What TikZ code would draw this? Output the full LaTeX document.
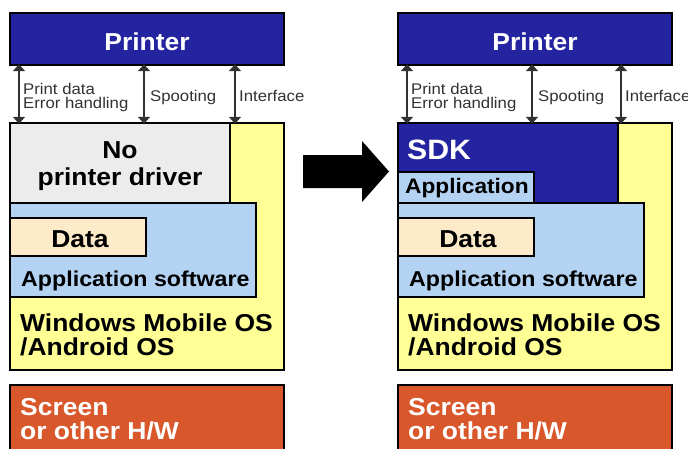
\documentclass[tikz,border=0pt]{standalone}
\usepackage{fontspec}
\setmainfont{Liberation Sans}[FakeStretch=1.08]
\usetikzlibrary{arrows.meta}
\definecolor{prnblue}{RGB}{36,36,160}
\definecolor{osyellow}{RGB}{255,255,150}
\definecolor{drvgray}{RGB}{236,236,236}
\definecolor{appblue}{RGB}{180,210,242}
\definecolor{datapeach}{RGB}{252,234,200}
\definecolor{hworange}{RGB}{216,88,44}
\definecolor{arrgray}{RGB}{50,50,50}
\tikzset{
  box/.style={draw=black, line width=1.6pt, anchor=north west, inner sep=0pt, outer sep=0pt},
  big/.style={anchor=base west, inner sep=0pt, font=\bfseries\fontsize{24.5}{26}\selectfont},
  bigc/.style={anchor=base, inner sep=0pt, font=\bfseries\fontsize{24.5}{26}\selectfont},
  small/.style={anchor=base west, inner sep=0pt, text=arrgray, font=\fontsize{15.5}{15.5}\selectfont},
  dbl/.style={arrgray, line width=1.8pt, {Triangle[width=12pt,length=7pt]}-{Triangle[width=12pt,length=7pt]}, shorten <=-0.8pt, shorten >=-0.8pt},
}
\begin{document}
\begin{tikzpicture}[x=1pt,y=-1pt]
\useasboundingbox (0,0) rectangle (688,448);
\fill[white] (0,0) rectangle (688,448);
% ---------------- left panel ----------------
\node[box, fill=prnblue, minimum width=274pt, minimum height=52pt] (prnL) at (10,13) {};
\node[bigc, text=white] (prnLt) at (147,50) {Printer};
\node[box, fill=osyellow, minimum width=274pt, minimum height=247pt] (osL) at (10,123) {};
\node[box, fill=drvgray, minimum width=220pt, minimum height=80pt] (drvL) at (10,123) {};
\node[bigc] (drvLt1) at (120,158) {No};
\node[bigc] (drvLt2) at (120,185) {printer driver};
\node[box, fill=appblue, minimum width=246pt, minimum height=94pt] (appL) at (10,203) {};
\node[box, fill=datapeach, minimum width=136pt, minimum height=38pt] (dataL) at (10,218) {};
\node[bigc] (dataLt) at (80,247) {Data};
\node[big, font=\bfseries\fontsize{21.5}{24}\selectfont] (appLt) at (21,286) {Application software};
\node[big] (osLt1) at (20,331) {Windows Mobile OS};
\node[big] (osLt2) at (20,355) {/Android OS};
\node[box, fill=hworange, minimum width=274pt, minimum height=80pt] (hwL) at (10,385) {};
\node[big, text=white] (hwLt1) at (20,415) {Screen};
\node[big, text=white] (hwLt2) at (20,439) {or other H/W};
\coordinate (xa1) at (19,0);
\coordinate (xa2) at (144,0);
\coordinate (xa3) at (235,0);
\draw[dbl] (prnL.south -| xa1) -- (osL.north -| xa1);
\draw[dbl] (prnL.south -| xa2) -- (osL.north -| xa2);
\draw[dbl] (prnL.south -| xa3) -- (osL.north -| xa3);
\node[small] (lblL1) at (23,94) {Print data};
\node[small] (lblL2) at (23,108.5) {Error handling};
\node[small] (lblL3) at (150,101.7) {Spooting};
\node[small] (lblL4) at (239,101.7) {Interface};
% ---------------- big arrow ----------------
\fill[black] (303,155) -- (362,155) -- (362,141) -- (389,171.5) -- (362,202) -- (362,188) -- (303,188) -- cycle;
% ---------------- right panel ----------------
\node[box, fill=prnblue, minimum width=274pt, minimum height=52pt] (prnR) at (398,13) {};
\node[bigc, text=white] (prnRt) at (535,50) {Printer};
\node[box, fill=osyellow, minimum width=274pt, minimum height=247pt] (osR) at (398,123) {};
\node[box, fill=prnblue, minimum width=220pt, minimum height=80pt] (sdkR) at (398,123) {};
\node[big, text=white, font=\bfseries\fontsize{28}{30}\selectfont] (sdkRt) at (407,159.5) {SDK};
\node[box, fill=appblue, minimum width=136pt, minimum height=31pt] (appSR) at (398,172) {};
\node[big, font=\bfseries\fontsize{21}{24}\selectfont] (appSRt) at (405,193.5) {Application};
\node[box, fill=appblue, minimum width=246pt, minimum height=94pt] (appR) at (398,203) {};
\node[box, fill=datapeach, minimum width=136pt, minimum height=38pt] (dataR) at (398,218) {};
\node[bigc] (dataRt) at (468,247) {Data};
\node[big, font=\bfseries\fontsize{21.5}{24}\selectfont] (appRt) at (409,286) {Application software};
\node[big] (osRt1) at (408,331) {Windows Mobile OS};
\node[big] (osRt2) at (408,355) {/Android OS};
\node[box, fill=hworange, minimum width=274pt, minimum height=80pt] (hwR) at (398,385) {};
\node[big, text=white] (hwRt1) at (408,415) {Screen};
\node[big, text=white] (hwRt2) at (408,439) {or other H/W};
\coordinate (xb1) at (407,0);
\coordinate (xb2) at (532,0);
\coordinate (xb3) at (621,0);
\draw[dbl] (prnR.south -| xb1) -- (osR.north -| xb1);
\draw[dbl] (prnR.south -| xb2) -- (osR.north -| xb2);
\draw[dbl] (prnR.south -| xb3) -- (osR.north -| xb3);
\node[small] (lblR1) at (411,94) {Print data};
\node[small] (lblR2) at (411,108.5) {Error handling};
\node[small] (lblR3) at (538,101.7) {Spooting};
\node[small] (lblR4) at (625,101.7) {Interface};
\end{tikzpicture}
\end{document}
